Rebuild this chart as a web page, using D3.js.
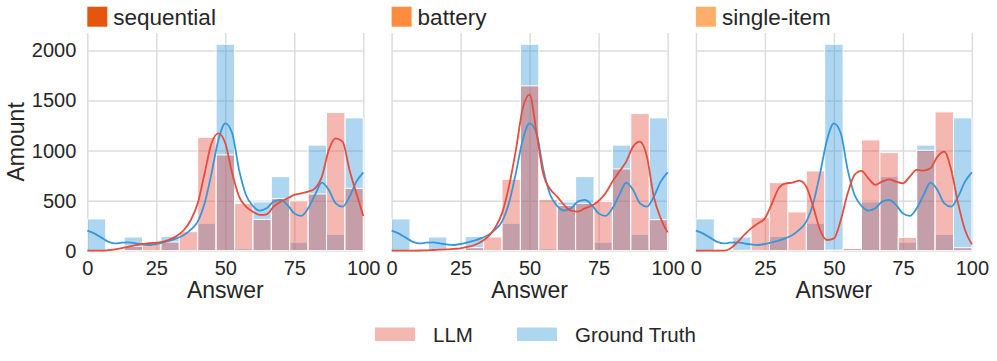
<!DOCTYPE html>
<html>
<head>
<meta charset="utf-8">
<script src="https://cdn.jsdelivr.net/npm/d3@7"></script>
<style>
  body { margin: 0; background: #fff; }
  svg { display: block; font-family: "Liberation Sans", Arial, sans-serif; }
  .grid line { stroke: #dcdcdc; stroke-width: 1.5; }
  .grid .domain { display: none; }
  .tick text { fill: #262626; font-size: 20px; }
</style>
</head>
<body>
<div id="chart"></div>
<script>
// histogram bins (Answer, 15 bins of 0..100)
const binEdges = [0, 6.667, 13.333, 20, 26.667, 33.333, 40, 46.667, 53.333, 60, 66.667, 73.333, 80, 86.667, 93.333, 100];

// counts per bin
const groundTruthCounts = [317, 13, 137, 5, 143, 4, 273, 2063, 18, 487, 740, 85, 1055, 163, 1327];
const sequentialCounts  = [0, 2, 45, 82, 87, 190, 1133, 957, 473, 313, 520, 497, 567, 1380, 623];
const batteryCounts     = [0, 0, 5, 5, 30, 137, 713, 1647, 513, 453, 473, 493, 817, 1370, 310];
const singleItemCounts  = [0, 0, 3, 330, 680, 387, 797, 5, 23, 1107, 980, 133, 1003, 1387, 30];

// kde curves, read at every 2.5 on the Answer axis
const kdeX = d3.range(0, 100.01, 2.5);
const groundTruthKde = [200, 173, 133, 90, 73, 80, 83, 73, 63, 57, 67, 83, 100, 125, 157, 210, 290, 473, 773, 1107, 1273,
  1173, 807, 557, 447, 400, 423, 490, 507, 457, 373, 347, 423, 557, 680, 607, 473, 440, 540, 690, 783];
const sequentialKde = [0, 0, 0, 5, 13, 25, 40, 55, 67, 75, 80, 90, 113, 150, 207, 307, 473, 773, 1073, 1173, 1073,
  773, 540, 440, 390, 357, 363, 440, 490, 523, 557, 573, 590, 623, 740, 1007, 1123, 1090, 807, 573, 347];
const batteryKde = [0, 0, 0, 0, 2, 4, 7, 10, 13, 18, 23, 37, 57, 90, 140, 230, 373, 640, 1000, 1420, 1560,
  1180, 760, 613, 540, 457, 400, 390, 423, 450, 497, 573, 690, 790, 890, 1040, 1090, 940, 540, 323, 183];
const singleItemKde = [0, 0, 0, 0, 0, 23, 83, 157, 223, 273, 323, 467, 623, 673, 680, 700, 640, 440, 207, 107, 123,
  307, 573, 757, 797, 723, 657, 690, 713, 690, 673, 740, 807, 800, 823, 940, 990, 807, 473, 207, 63];

const panelNames = ["sequential", "battery", "single-item"];
const panelColors = ["#e6550d", "#fd8d3c", "#fdae6b"];
const panelCounts = [sequentialCounts, batteryCounts, singleItemCounts];
const panelKdes = [sequentialKde, batteryKde, singleItemKde];

const xTicks = [0, 25, 50, 75, 100];
const yTicks = [0, 500, 1000, 1500, 2000];
const legendLabels = ["LLM", "Ground Truth"];

const llmColor = "#e74c3c", gtColor = "#3498db";

const width = 997, height = 361;
const margin = {top: 33, left: 87.3, bottom: 110.3},
  panelW = 276, gap = 28.3,
  plotH = height - margin.top - margin.bottom;

const svg = d3.select("#chart").append("svg")
  .attr("width", width)
  .attr("height", height);

const x = d3.scaleLinear().domain([0, 100]).range([0, panelW]);
const y = d3.scaleLinear().domain([0, 2175]).range([plotH, 0]);

const bins = binEdges.slice(0, -1).map((e, i) => ({x0: e, x1: binEdges[i + 1]}));

panelNames.forEach((name, p) => {
  const g = svg.append("g")
    .attr("transform", `translate(${margin.left + p * (panelW + gap)},${margin.top})`);

  // grid
  g.append("g").attr("class", "grid")
    .call(d3.axisLeft(y).tickValues(yTicks).tickSize(-panelW).tickFormat(""));
  const xg = g.append("g").attr("class", "grid")
    .attr("transform", `translate(0,${plotH})`)
    .call(d3.axisBottom(x).tickValues(xTicks).tickSize(plotH).tickPadding(0));
  xg.selectAll("line").attr("y2", -plotH);
  xg.selectAll("text").attr("y", 10).attr("dy", "0.71em").attr("fill", "#262626");

  if (p === 0) {
    const yg = g.append("g").attr("class", "grid")
      .call(d3.axisLeft(y).tickValues(yTicks).tickSize(0).tickPadding(11).tickFormat(d3.format("d")));
    yg.selectAll("line").remove();
  }

  // bars: ground truth first, llm on top
  const drawBars = (counts, color) => {
    g.append("g").selectAll("rect")
      .data(bins.map((b, i) => ({...b, v: counts[i]})))
      .join("rect")
      .attr("x", d => x(d.x0))
      .attr("width", d => x(d.x1) - x(d.x0))
      .attr("y", d => y(d.v))
      .attr("height", d => plotH - y(d.v))
      .attr("fill", color)
      .attr("fill-opacity", 0.4)
      .attr("stroke", "#fff")
      .attr("stroke-width", 1);
  };
  drawBars(groundTruthCounts, gtColor);
  drawBars(panelCounts[p], llmColor);

  const line = d3.line()
    .x((d, i) => x(kdeX[i]))
    .y(d => y(d))
    .curve(d3.curveMonotoneX);

  g.append("path").datum(groundTruthKde)
    .attr("d", line).attr("fill", "none")
    .attr("stroke", gtColor).attr("stroke-width", 1.8);
  g.append("path").datum(panelKdes[p])
    .attr("d", line).attr("fill", "none")
    .attr("stroke", llmColor).attr("stroke-width", 1.8);

  // title
  g.append("rect")
    .attr("x", 0).attr("y", -26.3)
    .attr("width", 20).attr("height", 20)
    .attr("fill", panelColors[p]);
  g.append("text")
    .attr("x", 26).attr("y", -8.5)
    .attr("font-size", 22.5).attr("fill", "#262626")
    .text(name);

  // x label
  g.append("text")
    .attr("x", panelW / 2).attr("y", 265)
    .attr("text-anchor", "middle")
    .attr("font-size", 23).attr("fill", "#262626")
    .text("Answer");
});

// y label
svg.append("text")
  .attr("transform", `translate(23.5,${margin.top + plotH / 2}) rotate(-90)`)
  .attr("text-anchor", "middle")
  .attr("font-size", 23).attr("fill", "#262626")
  .text("Amount");

// legend
const legend = svg.append("g").attr("transform", "translate(375,327.5)");
[llmColor, gtColor].forEach((c, i) => {
  const lg = legend.append("g").attr("transform", `translate(${i * 142},0)`);
  lg.append("rect")
    .attr("width", 40).attr("height", 13.5)
    .attr("fill", c).attr("fill-opacity", 0.4);
  lg.append("text")
    .attr("x", 58).attr("y", 14)
    .attr("font-size", 20.5).attr("fill", "#262626")
    .text(legendLabels[i]);
});
</script>
</body>
</html>
